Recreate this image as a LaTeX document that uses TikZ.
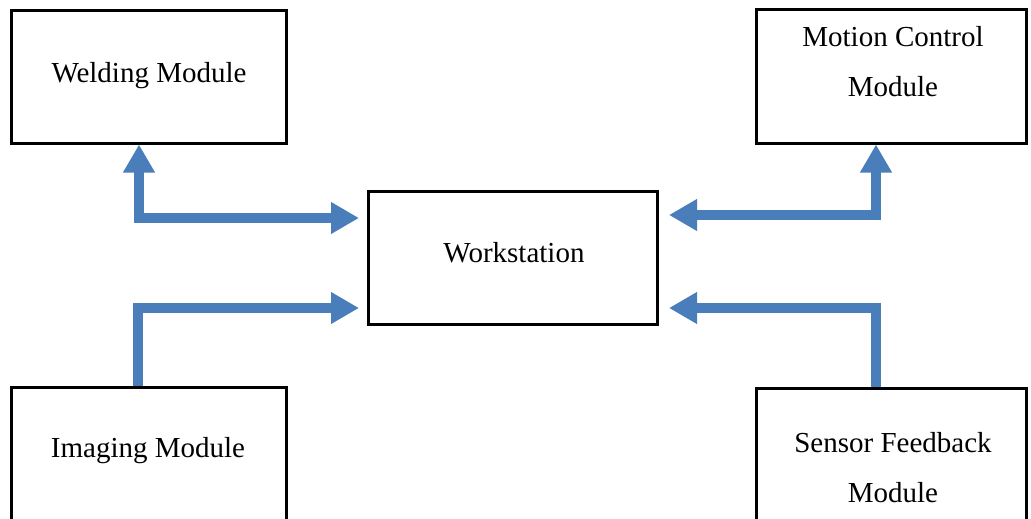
\documentclass[tikz,border=0pt]{standalone}
\usepackage{fontspec}
\setmainfont{Liberation Serif}
\usetikzlibrary{arrows.meta}
\definecolor{flowblue}{RGB}{74,126,187}
\tikzset{
  module/.style={draw=black, line width=3pt, inner sep=0pt, fill=white},
  caption/.style={inner sep=0pt, anchor=base, align=center,
    font=\fontsize{29}{50}\selectfont},
  flow/.style={draw=flowblue, line width=10pt, line join=miter,
    -{Triangle[length=28pt,width=30pt]}},
  dflow/.style={flow, {Triangle[length=28pt,width=30pt]}-{Triangle[length=28pt,width=30pt]}}
}
\begin{document}
\begin{tikzpicture}[x=1pt,y=-1pt]
  \clip (0,0) rectangle (1031,519);
  \fill[white] (0,0) rectangle (1031,519);

  % module boxes
  \node[module, minimum width=275pt, minimum height=132pt] (weld)   at (148.5,77)   {};
  \node[module, minimum width=270pt, minimum height=133pt] (motion) at (891,76.5)   {};
  \node[module, minimum width=289pt, minimum height=133pt] (work)   at (512.5,257.5){};
  \node[module, minimum width=275pt, minimum height=140pt] (imag)   at (148.5,457)  {};
  \node[module, minimum width=270pt, minimum height=140pt] (sensor) at (891,458)    {};

  % box texts (base anchor = baseline of the last line)
  \node[caption] (weldT)   at (149,82)  {Welding Module};
  \node[caption] (motionT) at (893,96)  {Motion Control\\Module};
  \node[caption] (workT)   at (514,262) {Workstation};
  \node[caption] (imagT)   at (148,457) {Imaging Module};
  \node[caption] (sensorT) at (893,502) {Sensor Feedback\\Module};

  % connectors
  \draw[dflow] ([xshift=-9.5pt]weld.south) |- ([xshift=-7.5pt,yshift=39.5pt]work.west);
  \draw[dflow] ([xshift=-15pt]motion.south) |- ([xshift=10.5pt,yshift=42.5pt]work.east);
  \draw[flow] ([xshift=-10.5pt]imag.north) |- ([xshift=-7.5pt,yshift=-50.5pt]work.west);
  \draw[flow] ([xshift=-15pt]sensor.north) |- ([xshift=10.5pt,yshift=-50.5pt]work.east);
\end{tikzpicture}
\end{document}
